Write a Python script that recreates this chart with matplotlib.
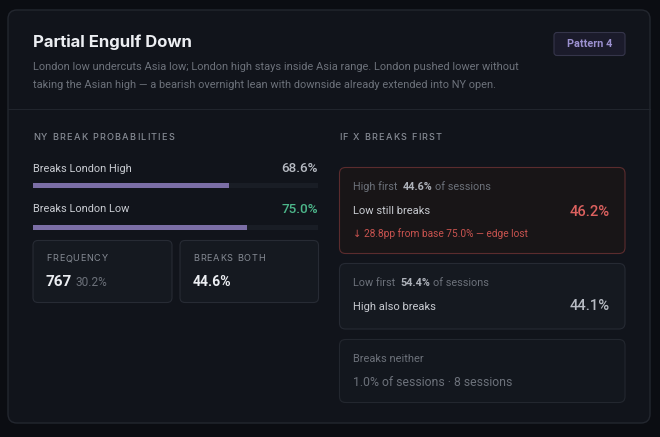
import matplotlib.pyplot as plt
from matplotlib.patches import FancyBboxPatch

# ---- data ----
pattern_name = "Partial Engulf Down"
pattern_tag = "Pattern 4"
description = [
    "London low undercuts Asia low; London high stays inside Asia range. London pushed lower without",
    "taking the Asian high \u2014 a bearish overnight lean with downside already extended into NY open.",
]
prob_labels = ["Breaks London High", "Breaks London Low"]
prob_values = [68.6, 75.0]
frequency_count = 767
frequency_pct = 30.2
breaks_both = 44.6

high_first_share = 44.6
low_still_breaks = 46.2
low_base = 75.0
low_first_share = 54.4
high_also_breaks = 44.1
neither_share = 1.0
neither_count = 8

# ---- colours ----
BG = "#0b0d12"
CARD = "#11141b"
CARD_EDGE = "#23272f"
TXT = "#eceef2"
SUB = "#c8cbd1"
MUTED = "#6c717a"
HEAD = "#868b94"
PURPLE = "#7b6ea6"
TRACK = "#191d25"
GREEN = "#4cb68a"
RED = "#dc615f"

FONT = ["Roboto", "DejaVu Sans"]
TITLE_FONT = ["Inter", "DejaVu Sans"]

fig = plt.figure(figsize=(6.6, 4.37), dpi=100, facecolor=BG)
ax = fig.add_axes([0, 0, 1, 1])
ax.set_xlim(0, 660)
ax.set_ylim(437, 0)
ax.axis("off")


def box(x0, y0, x1, y1, fc, ec, r=6, lw=0.8, z=1):
    ax.add_patch(FancyBboxPatch((x0, y0), x1 - x0, y1 - y0,
                                boxstyle=f"round,pad=0,rounding_size={r}",
                                fc=fc, ec=ec, lw=lw, zorder=z))


def txt(x, y, s, size=8, color=SUB, weight="normal", ha="left", family=FONT, **kw):
    return ax.text(x, y, s, fontsize=size, color=color, fontweight=weight,
                   ha=ha, va="center", family=family, **kw)


renderer = fig.canvas.get_renderer()


def chain(x, y, pieces):
    # draw text pieces one after another on the same line
    for s, kw in pieces:
        kw = dict(kw)
        gap = kw.pop("gap", 0)
        t = txt(x, y, s, **kw)
        bb = t.get_window_extent(renderer)
        x = bb.x1 + gap


def spaced(x, y, s, track=1.2, size=6.6, **kw):
    # letter-spaced caps label
    for ch in s:
        if ch == " ":
            x += size * 0.28 * 100 / 72 + track
            continue
        t = txt(x, y, ch, size=size, family=TITLE_FONT, **kw)
        x = t.get_window_extent(renderer).x1 + track


# card
box(8, 10, 650, 423, CARD, CARD_EDGE, r=9, lw=1)
ax.plot([8, 650], [109, 109], color="#21252d", lw=0.8, zorder=2)

# header
txt(33, 42.5, pattern_name, size=12, color=TXT, weight="bold", family=TITLE_FONT)
for i, line in enumerate(description):
    txt(33, 66.5 + 18 * i, line, size=7.95, color=MUTED)
box(554, 32.5, 625, 55.5, "#1b1b2b", "#35354a", r=3)
txt(589.5, 44, pattern_tag, size=7.8, color="#9b90cf", weight="bold", ha="center")

# left column: NY break probabilities
spaced(33, 137.5, "NY BREAK PROBABILITIES", track=1.2, color=HEAD, weight="medium")
bax = fig.add_axes([33 / 660, 1 - 235 / 437, 285 / 660, 85 / 437])
bax.set_xlim(0, 100)
bax.set_ylim(235, 150)
bax.axis("off")
bar_y = [186, 227]
label_y = [168.5, 209.5]
val_colors = ["#b7bbc3", GREEN]
for lab, v, by, ly, vc in zip(prob_labels, prob_values, bar_y, label_y, val_colors):
    bax.barh(by, 100, height=5, color=TRACK, zorder=1)
    bax.barh(by, v, height=5, color=PURPLE, zorder=2)
    txt(33, ly, lab, size=7.95, color=SUB)
    txt(318, ly, f"{v:.1f}%", size=9.7, color=vc, weight="medium", ha="right")

# stat boxes
box(33, 240.5, 172, 302.5, "#151920", "#272b34", r=5)
box(180, 240.5, 318.5, 302.5, "#151920", "#272b34", r=5)
spaced(46, 258.5, "FREQUENCY", track=0.8, color=HEAD)
chain(46, 282, [(str(frequency_count), dict(size=11, color=TXT, weight="bold", gap=3)),
                (f"{frequency_pct:.1f}%", dict(size=8.6, color=MUTED))])
spaced(193, 258.5, "BREAKS BOTH", track=0.8, color=HEAD)
txt(193, 282, f"{breaks_both:.1f}%", size=10.1, color=TXT, weight="bold")

# right column: if x breaks first
spaced(339, 137.5, "IF X BREAKS FIRST", track=1.2, color=HEAD, weight="medium")

box(339.5, 167.5, 625, 253.5, "#181517", "#5b2c2e", r=6)
chain(353, 187, [("High first", dict(size=7.8, color=MUTED, gap=5)),
                 (f"{high_first_share:.1f}%", dict(size=7.8, color="#aeb2ba", weight="bold", gap=3)),
                 ("of sessions", dict(size=7.8, color=MUTED))])
txt(353, 211.5, "Low still breaks", size=8.0, color=SUB)
txt(610, 211.5, f"{low_still_breaks:.1f}%", size=10.6, color=RED, weight="medium", ha="right")
drop = low_base - low_still_breaks
txt(353, 234, f"\u2193 {drop:.1f}pp from base {low_base:.1f}% \u2014 edge lost",
    size=7.25, color="#c9534f")

box(339.5, 263.5, 625, 329, "#151920", "#262a33", r=6)
chain(353, 283, [("Low first", dict(size=7.8, color=MUTED, gap=5)),
                 (f"{low_first_share:.1f}%", dict(size=7.8, color="#aeb2ba", weight="bold", gap=3)),
                 ("of sessions", dict(size=7.8, color=MUTED))])
txt(353, 306.5, "High also breaks", size=8.0, color=SUB)
txt(610, 306.5, f"{high_also_breaks:.1f}%", size=10.6, color="#b7bbc3", weight="medium", ha="right")

box(339.5, 339.5, 625, 402.5, "#13171e", "#23272f", r=6)
txt(353, 359, "Breaks neither", size=7.9, color=MUTED)
txt(353, 382.5, f"{neither_share:.1f}% of sessions \u00b7 {neither_count} sessions",
    size=8.8, color=MUTED)

fig.savefig("out.png", dpi=100, facecolor=BG)
